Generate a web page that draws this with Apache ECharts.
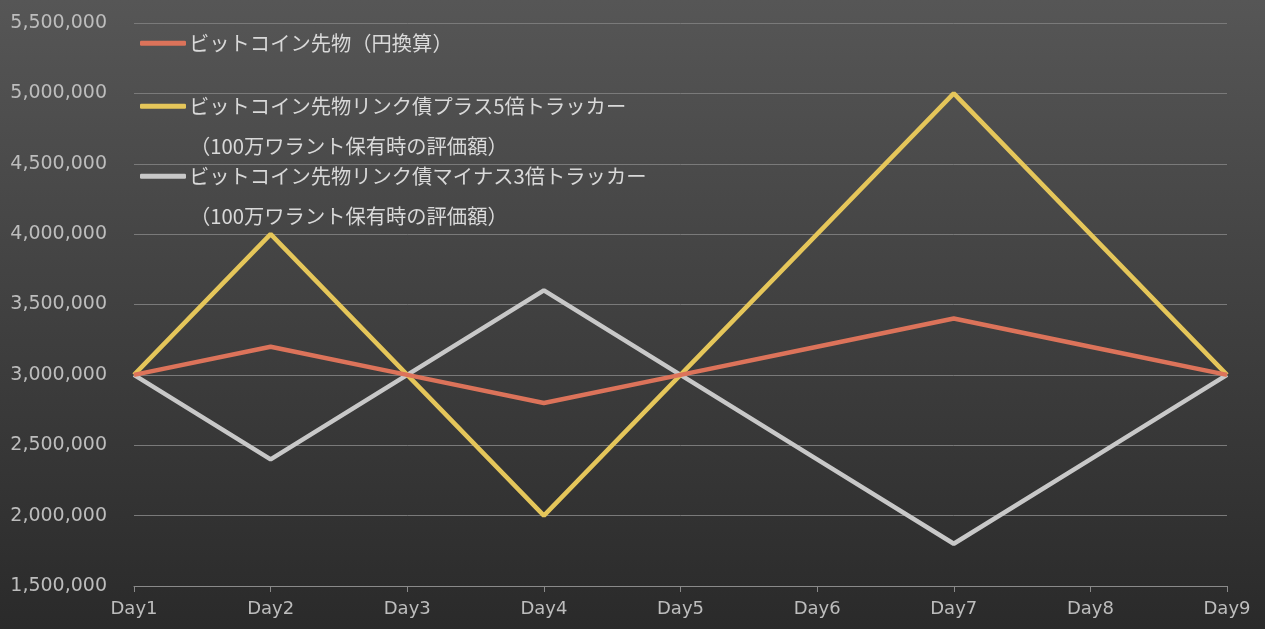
<!DOCTYPE html>
<html><head><meta charset="utf-8">
<script src="https://cdn.jsdelivr.net/npm/echarts@6/dist/echarts.min.js"></script>
<style>html,body{margin:0;padding:0;background:#2b2b2b}#c{width:1265px;height:629px}</style>
</head><body><div id="c"></div>
<script>
const categories = ['Day1','Day2','Day3','Day4','Day5','Day6','Day7','Day8','Day9'];
const seriesNames = [
  'ビットコイン先物（円換算）',
  'ビットコイン先物リンク債プラス5倍トラッカー\n（100万ワラント保有時の評価額）',
  'ビットコイン先物リンク債マイナス3倍トラッカー\n（100万ワラント保有時の評価額）'
];
const btcFutures = [3000000,3200000,3000000,2800000,3000000,3200000,3400000,3200000,3000000];
const plus5x = [3000000,4000000,3000000,2000000,3000000,4000000,5000000,4000000,3000000];
const minus3x = [3000000,2400000,3000000,3600000,3000000,2400000,1800000,2400000,3000000];
const yTicks = {min:1500000, max:5500000, interval:500000};
const colors = ['#dc735a','#e5c65a','#c8c8c8'];

const chart = echarts.init(document.getElementById('c'));
const jp = '"Noto Sans CJK JP", sans-serif';
function legendAt(i, top){
  return {
    data:[seriesNames[i]], left:140, top:top, orient:'vertical', padding:0,
    icon:'roundRect', itemWidth:46, itemHeight:5, itemGap:0,
    textStyle:{color:'#d9d9d9', fontSize:20.3, fontFamily:jp, padding:[0,0,0,-2]},
    formatter: n => n.split('\n')[0]
  };
}
chart.setOption({
  backgroundColor: new echarts.graphic.LinearGradient(0,0,0,1,[{offset:0,color:'#565656'},{offset:1,color:'#2a2a2a'}]),
  animation:false,
  grid:{left:134,right:38,top:23,bottom:43},
  legend:[legendAt(0,33), legendAt(1,96), legendAt(2,166)],
  graphic:[
    {type:'text', left:190, top:136, style:{text:seriesNames[1].split('\n')[1], fill:'#d9d9d9', font:'20.3px '+jp}},
    {type:'text', left:190, top:206, style:{text:seriesNames[2].split('\n')[1], fill:'#d9d9d9', font:'20.3px '+jp}}
  ],
  xAxis:{type:'category', data:categories, boundaryGap:false,
    axisLine:{lineStyle:{color:'#8a8a8a',width:1}},
    axisTick:{show:true, length:6, lineStyle:{color:'#8a8a8a'}},
    axisLabel:{color:'#bdbdbd', fontSize:18, fontFamily:'"DejaVu Sans", sans-serif', margin:14}},
  yAxis:{type:'value', min:yTicks.min, max:yTicks.max, interval:yTicks.interval,
    axisLine:{show:false}, axisTick:{show:false},
    splitLine:{lineStyle:{color:'#7a7a7a',width:1}},
    axisLabel:{color:'#bdbdbd', fontSize:19, fontFamily:'"DejaVu Sans", sans-serif', margin:27,
      formatter: v => v.toLocaleString('en-US')}},
  series:[
    {name:seriesNames[0], type:'line', data:btcFutures, showSymbol:false, symbol:'none', lineStyle:{width:4.5,color:colors[0]}, itemStyle:{color:colors[0]}, z:3},
    {name:seriesNames[1], type:'line', data:plus5x, showSymbol:false, symbol:'none', lineStyle:{width:4.5,color:colors[1]}, itemStyle:{color:colors[1]}, z:2},
    {name:seriesNames[2], type:'line', data:minus3x, showSymbol:false, symbol:'none', lineStyle:{width:4.5,color:colors[2]}, itemStyle:{color:colors[2]}, z:1}
  ]
});
</script></body></html>
